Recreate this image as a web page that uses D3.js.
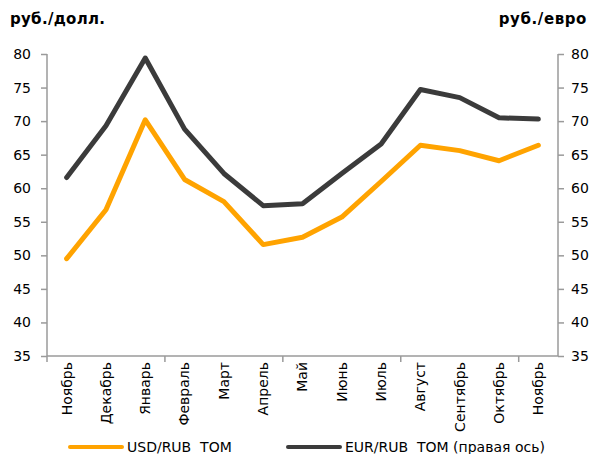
<!DOCTYPE html>
<html><head><meta charset="utf-8">
<script src="https://cdn.jsdelivr.net/npm/d3@7/dist/d3.min.js"></script>
<style>body{margin:0;background:#fff}</style>
</head><body>
<svg id="c" width="590" height="454"></svg>
<script>
const categories = ["Ноябрь","Декабрь","Январь","Февраль","Март","Апрель","Май","Июнь","Июль","Август","Сентябрь","Октябрь","Ноябрь"];
const usdRub = [49.5, 56.8, 70.2, 61.3, 58.0, 51.6, 52.7, 55.7, 61.0, 66.4, 65.6, 64.1, 66.4];
const eurRub = [61.6, 69.3, 79.4, 68.8, 62.2, 57.4, 57.7, 62.2, 66.6, 74.7, 73.5, 70.5, 70.3];
const yTicks = [35, 40, 45, 50, 55, 60, 65, 70, 75, 80];
const seriesNames = ["USD/RUB  TOM", "EUR/RUB  TOM (правая ось)"];
const leftTitle = "руб./долл.";
const rightTitle = "руб./евро";

const font = "Tahoma, 'DejaVu Sans', sans-serif";
const svg = d3.select("#c");
const L = 47, R = 558, T = 54, B = 356;
const x = d3.scaleBand().domain(d3.range(categories.length)).range([L, R]);
const yL = d3.scaleLinear().domain([35, 80]).range([B, T]);
const yR = d3.scaleLinear().domain([35, 80]).range([B, T]);
const axisCol = "#9a9a9a";

const gl = svg.append("g").attr("transform", `translate(${L},0)`)
  .call(d3.axisLeft(yL).tickValues(yTicks).tickSize(6).tickPadding(10));
const gr = svg.append("g").attr("transform", `translate(${R},0)`)
  .call(d3.axisRight(yR).tickValues(yTicks).tickSize(6).tickPadding(7));
[gl, gr].forEach(g => {
  g.select(".domain").attr("stroke", axisCol).attr("stroke-width", 1.5).attr("d", `M0,${T}V${B}`);
  g.selectAll(".tick line").attr("stroke", axisCol).attr("stroke-width", 1.5);
  g.selectAll(".tick text").attr("font-family", font).attr("font-size", 14).attr("fill", "#000");
});

const gb = svg.append("g").attr("transform", `translate(0,${B})`)
  .call(d3.axisBottom(x).tickFormat(i => categories[i]).tickSize(0).tickPadding(6));
gb.select(".domain").attr("stroke", axisCol).attr("stroke-width", 1.5).attr("d", `M${L},0H${R}`);
gb.selectAll(".tick text")
  .attr("font-family", font).attr("font-size", 14).attr("fill", "#000")
  .attr("transform", "rotate(-90)").attr("text-anchor", "end")
  .attr("x", -6).attr("y", 0).attr("dy", "0.35em");
const step = x.step();
gb.selectAll(".gtick").data(d3.range(0, categories.length, 3)).enter().append("line")
  .attr("x1", i => L + i * step).attr("x2", i => L + i * step)
  .attr("y1", 0).attr("y2", 6).attr("stroke", axisCol).attr("stroke-width", 1.5);

const cx = i => x(i) + x.bandwidth() / 2;
const lineL = d3.line().x((d, i) => cx(i)).y(d => yL(d));
const lineR = d3.line().x((d, i) => cx(i)).y(d => yR(d));
svg.append("path").attr("d", lineR(eurRub)).attr("fill", "none").attr("stroke", "#3b3b3b")
  .attr("stroke-width", 5).attr("stroke-linejoin", "round").attr("stroke-linecap", "round");
svg.append("path").attr("d", lineL(usdRub)).attr("fill", "none").attr("stroke", "#ffa300")
  .attr("stroke-width", 5).attr("stroke-linejoin", "round").attr("stroke-linecap", "round");

svg.append("text").attr("x", 10).attr("y", 24).text(leftTitle)
  .attr("font-family", font).attr("font-weight", "bold").attr("font-size", 15).attr("letter-spacing", 0.3);
svg.append("text").attr("x", 587).attr("y", 24).attr("text-anchor", "end").text(rightTitle)
  .attr("font-family", font).attr("font-weight", "bold").attr("font-size", 15).attr("letter-spacing", 0.6);

const leg = [{x: 70, c: "#ffa300", t: seriesNames[0]}, {x: 288, c: "#3b3b3b", t: seriesNames[1]}];
leg.forEach(d => {
  svg.append("line").attr("x1", d.x).attr("x2", d.x + 52).attr("y1", 447).attr("y2", 447)
    .attr("stroke", d.c).attr("stroke-width", 4).attr("stroke-linecap", "round");
  svg.append("text").attr("x", d.x + 57).attr("y", 452).text(d.t)
    .attr("font-family", font).attr("font-size", 14).style("white-space", "pre");
});
</script>
</body></html>
